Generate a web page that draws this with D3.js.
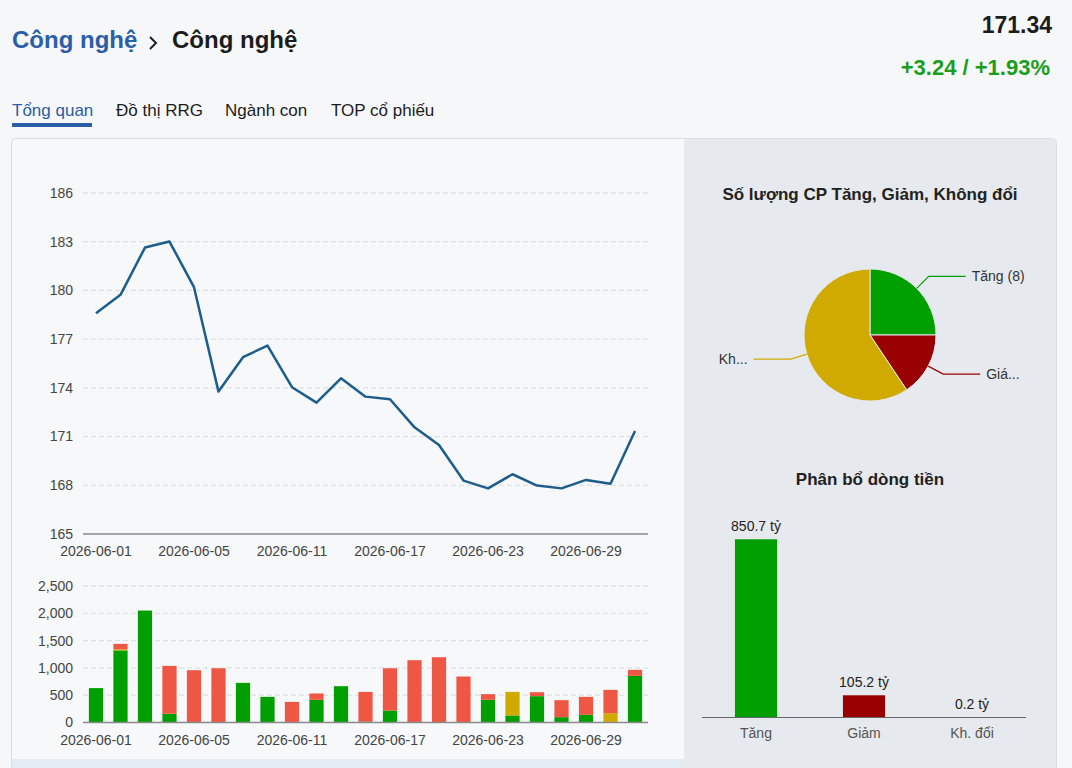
<!DOCTYPE html>
<html lang="vi">
<head>
<meta charset="utf-8">
<title>Công nghệ</title>
<style>
  html, body { margin: 0; padding: 0; background: #f6f7f9; }
  svg { display: block; font-family: "Helvetica Neue", Helvetica, Arial, "Liberation Sans", sans-serif; }
  .grid line { stroke: #d9dbde; stroke-dasharray: 5,3; }
  .tick-label { font-size: 14px; fill: #444; }
  .chart-title { font-size: 17px; font-weight: bold; fill: #222; text-anchor: middle; }
</style>
</head>
<body>
<svg id="page" width="1072" height="768"></svg>
<script src="https://d3js.org/d3.v7.min.js"></script>
<script>
// ---- data ----
const dates = ["2026-06-01","2026-06-02","2026-06-03","2026-06-04","2026-06-05",
  "2026-06-08","2026-06-09","2026-06-10","2026-06-11","2026-06-12",
  "2026-06-15","2026-06-16","2026-06-17","2026-06-18","2026-06-19",
  "2026-06-22","2026-06-23","2026-06-24","2026-06-25","2026-06-26",
  "2026-06-29","2026-06-30","2026-07-01"];
const indexValues = [178.6, 179.73, 182.64, 183.01, 180.2, 173.77, 175.89, 176.6, 174.04, 173.09,
  174.59, 173.46, 173.3, 171.57, 170.48, 168.29, 167.81, 168.68, 167.98, 167.81,
  168.33, 168.1, 171.34];
const yTicks = [165, 168, 171, 174, 177, 180, 183, 186];
const xTickDates = ["2026-06-01","2026-06-05","2026-06-11","2026-06-17","2026-06-23","2026-06-29"];

// stacked trading value per day (tỷ): up / unchanged / down
const valueUp =   [630, 1320, 2050, 160, 0, 0, 726, 470, 0, 415, 665, 15, 220, 0, 0, 0, 415, 128, 482, 98, 140, 0, 854];
const valueFlat = [0, 20, 0, 0, 0, 0, 0, 0, 0, 0, 0, 0, 0, 0, 0, 0, 0, 433, 0, 0, 0, 171, 0];
const valueDown = [0, 100, 0, 877, 958, 994, 0, 0, 378, 116, 0, 546, 774, 1141, 1196, 842, 104, 0, 73, 311, 330, 427, 110];
const volTicks = [0, 500, 1000, 1500, 2000, 2500];

const pieNames = ["Tăng", "Giảm", "Không đổi"];
const pieCounts = [8, 5, 19];
const pieLabels = ["Tăng (8)", "Giá...", "Kh..."];

const flowCats = ["Tăng", "Giảm", "Kh. đổi"];
const flowValues = [850.7, 105.2, 0.2];

const GREEN = "#009f00", RED = "#ef5745", YELLOW = "#d1aa00", DARKRED = "#990000";

const svg = d3.select("#page");

// ---- header ----
svg.append("text").attr("x", 12).attr("y", 48)
  .style("font-size", "24px").style("font-weight", "bold").style("fill", "#2a5ea6")
  .text("Công nghệ");
svg.append("path").attr("d", "M150,37 L156,43 L150,49")
  .attr("fill", "none").attr("stroke", "#222").attr("stroke-width", 2);
svg.append("text").attr("x", 172).attr("y", 48)
  .style("font-size", "24px").style("font-weight", "bold").style("fill", "#1c1c1c")
  .text("Công nghệ");
svg.append("text").attr("x", 1052).attr("y", 33).attr("text-anchor", "end")
  .style("font-size", "23px").style("font-weight", "bold").style("fill", "#1c1c1c")
  .text("171.34");
svg.append("text").attr("x", 1050).attr("y", 75).attr("text-anchor", "end")
  .style("font-size", "22px").style("font-weight", "bold").style("fill", "#1a9e1a")
  .text("+3.24 / +1.93%");

const tabs = [{t: "Tổng quan", x: 12}, {t: "Đồ thị RRG", x: 116}, {t: "Ngành con", x: 225}, {t: "TOP cổ phiếu", x: 331}];
svg.selectAll(".tab").data(tabs).enter().append("text")
  .attr("class", "tab")
  .attr("x", d => d.x).attr("y", 116)
  .style("font-size", "17px")
  .style("fill", (d, i) => i === 0 ? "#2a5ea6" : "#1c1c1c")
  .text(d => d.t);
svg.append("rect").attr("x", 12).attr("y", 123).attr("width", 80).attr("height", 4).attr("fill", "#2a5ea6");

// ---- card ----
svg.append("rect").attr("x", 11.5).attr("y", 138.5).attr("width", 1045).attr("height", 640)
  .attr("rx", 4).attr("fill", "#f6f8fa").attr("stroke", "#dadde1");
svg.append("rect").attr("x", 684).attr("y", 139).attr("width", 372).attr("height", 629).attr("fill", "#e6e9ed");
svg.append("rect").attr("x", 12).attr("y", 759).attr("width", 672).attr("height", 9).attr("fill", "#e3ebf4");

// ---- shared x scale ----
const x = d3.scalePoint().domain(dates).range([83, 648]).padding(0.53);

// ---- line chart ----
const yLine = d3.scaleLinear().domain([165, 186]).range([534, 193]);

svg.append("g").attr("class", "grid")
  .selectAll("line").data(yTicks.filter(v => v > 165)).enter().append("line")
  .attr("x1", 83).attr("x2", 648)
  .attr("y1", d => yLine(d)).attr("y2", d => yLine(d));

svg.append("g").selectAll("text").data(yTicks).enter().append("text")
  .attr("class", "tick-label").attr("text-anchor", "end")
  .attr("x", 73).attr("y", d => yLine(d)).attr("dy", "0.35em")
  .text(d => d);

svg.append("line").attr("x1", 83).attr("x2", 648).attr("y1", 534).attr("y2", 534)
  .attr("stroke", "#8a8a8a").attr("stroke-width", 1.5);

svg.append("g").selectAll("text").data(xTickDates).enter().append("text")
  .attr("class", "tick-label").attr("text-anchor", "middle")
  .attr("x", d => x(d)).attr("y", 556)
  .text(d => d);

const line = d3.line().x((d, i) => x(dates[i])).y(d => yLine(d));
svg.append("path").datum(indexValues)
  .attr("d", line).attr("fill", "none")
  .attr("stroke", "#1d5d8c").attr("stroke-width", 2.5).attr("stroke-linejoin", "round");

// ---- stacked value bars ----
const yVol = d3.scaleLinear().domain([0, 2500]).range([722.5, 586]);
const stackRows = dates.map((d, i) => ({date: d, up: valueUp[i], flat: valueFlat[i], down: valueDown[i]}));
const stack = d3.stack().keys(["up", "flat", "down"])(stackRows);
const stackColor = {up: GREEN, flat: YELLOW, down: RED};

svg.append("g").attr("class", "grid")
  .selectAll("line").data(volTicks.filter(v => v > 0)).enter().append("line")
  .attr("x1", 83).attr("x2", 648)
  .attr("y1", d => yVol(d)).attr("y2", d => yVol(d));

svg.append("g").selectAll("text").data(volTicks).enter().append("text")
  .attr("class", "tick-label").attr("text-anchor", "end")
  .attr("x", 73).attr("y", d => yVol(d)).attr("dy", "0.35em")
  .text(d => d3.format(",")(d));

const barW = x.step() * 0.58;
svg.append("g").selectAll("g").data(stack).enter().append("g")
  .attr("fill", s => stackColor[s.key])
  .selectAll("rect").data(s => s).enter().append("rect")
  .attr("x", d => x(d.data.date) - barW / 2)
  .attr("width", barW)
  .attr("y", d => yVol(d[1]))
  .attr("height", d => yVol(d[0]) - yVol(d[1]));

svg.append("line").attr("x1", 83).attr("x2", 648).attr("y1", 722.5).attr("y2", 722.5)
  .attr("stroke", "#8a8a8a").attr("stroke-width", 1.5);

svg.append("g").selectAll("text").data(xTickDates).enter().append("text")
  .attr("class", "tick-label").attr("text-anchor", "middle")
  .attr("x", d => x(d)).attr("y", 745)
  .text(d => d);

// ---- pie ----
svg.append("text").attr("class", "chart-title").attr("x", 870).attr("y", 200)
  .text("Số lượng CP Tăng, Giảm, Không đổi");

const cx = 870, cy = 335, r = 66;
const pieColors = [GREEN, DARKRED, YELLOW];
const arcs = d3.pie().sort(null)(pieCounts);
const arc = d3.arc().innerRadius(0).outerRadius(r);
const pg = svg.append("g").attr("transform", `translate(${cx},${cy})`);
pg.selectAll("path").data(arcs).enter().append("path")
  .attr("d", arc).attr("fill", (d, i) => pieColors[i])
  .attr("stroke", "#e6e9ed").attr("stroke-width", 1);

arcs.forEach((a, i) => {
  const mid = (a.startAngle + a.endAngle) / 2;
  const p0 = [r * Math.sin(mid), -r * Math.cos(mid)];
  const p1 = [83 * Math.sin(mid), -83 * Math.cos(mid)];
  const side = Math.sin(mid) >= 0 ? 1 : -1;
  const p2 = [p1[0] + side * 37, p1[1]];
  pg.append("path")
    .attr("d", `M${p0[0]},${p0[1]} L${p1[0]},${p1[1]} L${p2[0]},${p2[1]}`)
    .attr("fill", "none").attr("stroke", pieColors[i]).attr("stroke-width", 1.2);
  pg.append("text")
    .attr("x", p2[0] + side * 6).attr("y", p1[1]).attr("dy", "0.35em")
    .attr("text-anchor", side > 0 ? "start" : "end")
    .style("font-size", "14px").style("fill", "#333")
    .text(pieLabels[i]);
});

// ---- cash flow bars ----
svg.append("text").attr("class", "chart-title").attr("x", 870).attr("y", 485)
  .text("Phân bổ dòng tiền");

const xf = d3.scaleBand().domain(flowCats).range([702, 1026]).paddingInner(0.61).paddingOuter(0.305);
const yf = d3.scaleLinear().domain([0, 850.7]).range([717.3, 539.3]);
const flowColors = [GREEN, DARKRED, "#888"];

svg.append("g").selectAll("rect").data(flowValues).enter().append("rect")
  .attr("x", (d, i) => xf(flowCats[i]))
  .attr("width", xf.bandwidth())
  .attr("y", d => yf(d))
  .attr("height", d => yf(0) - yf(d))
  .attr("fill", (d, i) => flowColors[i]);

svg.append("g").selectAll("text").data(flowValues).enter().append("text")
  .attr("x", (d, i) => xf(flowCats[i]) + xf.bandwidth() / 2)
  .attr("y", d => yf(d) - 8)
  .attr("text-anchor", "middle")
  .style("font-size", "14px").style("fill", "#222")
  .text(d => d + " tỷ");

svg.append("line").attr("x1", 702).attr("x2", 1026).attr("y1", 717.5).attr("y2", 717.5)
  .attr("stroke", "#666").attr("stroke-width", 1.2);

svg.append("g").selectAll("text").data(flowCats).enter().append("text")
  .attr("class", "tick-label").attr("text-anchor", "middle")
  .attr("x", d => xf(d) + xf.bandwidth() / 2).attr("y", 738)
  .style("fill", "#555")
  .text(d => d);
</script>
</body>
</html>
